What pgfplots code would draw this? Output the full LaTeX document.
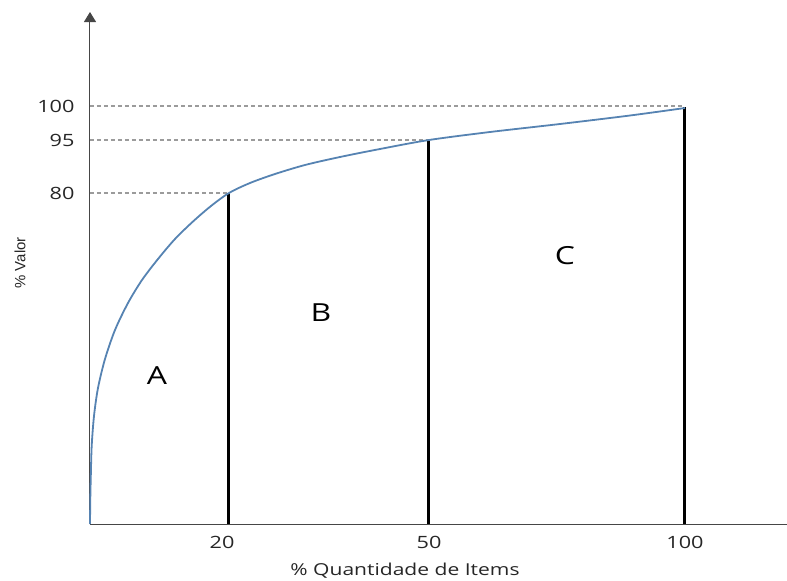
\documentclass[border=0pt]{standalone}
\usepackage{pgfplots}
\pgfplotsset{compat=1.18}
\usepackage{fontspec}
\setmainfont{Open Sans}[FakeStretch=1.28]
\newfontfamily\arialfont{Liberation Sans}
\usetikzlibrary{arrows.meta}
\definecolor{curveblue}{RGB}{86,131,178}
\definecolor{axgray}{RGB}{70,70,70}
\definecolor{dashgray}{RGB}{155,155,155}
\begin{document}
\begin{tikzpicture}
\useasboundingbox (-90bp,-57bp) rectangle (697bp,524bp);
\begin{axis}[
  at={(0,0)}, anchor=origin,
  x=1bp, y=1bp,
  xmin=0, xmax=697, ymin=0, ymax=512,
  axis x line=bottom, axis y line=left,
  axis line style={axgray, line width=1bp},
  y axis line style={-{Triangle[length=10bp,width=12bp]}},
  x axis line style={-},
  xtick={139,339,595}, xticklabels={{\hspace{-14bp}20},50,100},
  ytick={331,384,418}, yticklabels={80,95,100},
  major tick length=0pt,
  /pgf/number format/assume math mode=true,
  tick label style={font=\fontsize{17}{19}\selectfont, text=black!85},
  xticklabel style={yshift=-9bp},
  yticklabel style={xshift=-12bp},
  xlabel={\% Quantidade de Items},
  ylabel={\arialfont \% Valor},
  xlabel style={at={(axis cs:315,-47)}, anchor=center, font=\fontsize{16.5}{18}\selectfont, text=black!85},
  ylabel style={at={(axis cs:-70,261)}, anchor=center, rotate=0, font=\fontsize{15}{17}\selectfont, text=black!85},
  clip=false,
]
% dashed reference lines
\addplot[dashgray, line width=1.3bp, dash pattern=on 4bp off 3bp] coordinates {(0,331) (139,331)};
\addplot[dashgray, line width=1.3bp, dash pattern=on 4bp off 3bp] coordinates {(0,384) (339,384)};
\addplot[dashgray, line width=1.3bp, dash pattern=on 4bp off 3bp] coordinates {(0,418) (595,418)};
% vertical separators
\addplot[black, line width=3bp] coordinates {(139,0) (139,331)};
\addplot[black, line width=3bp] coordinates {(339,0) (339,383)};
\addplot[black, line width=3bp] coordinates {(595,0) (595,417)};
% cumulative curve
\addplot[curveblue, line width=1.8bp, smooth, tension=0.5] coordinates {
(0,0) (0.3,25) (0.8,47) (1.7,78) (4,108) (8,136) (15,165) (25,194)
(38,221) (52,244) (68,265) (85,285) (103,302.5) (121,318) (139,331)
(160,341) (185,350) (215,359) (250,367) (290,375) (339,384) (400,392)
(470,400) (540,408.5) (595,416)};
% class labels
\node[font=\fontsize{25}{27}\selectfont] at (axis cs:67,148) {A};
\node[font=\fontsize{25}{27}\selectfont] at (axis cs:231,211) {B};
\node[font=\fontsize{25}{27}\selectfont] at (axis cs:475,268) {C};
\end{axis}
\end{tikzpicture}
\end{document}
